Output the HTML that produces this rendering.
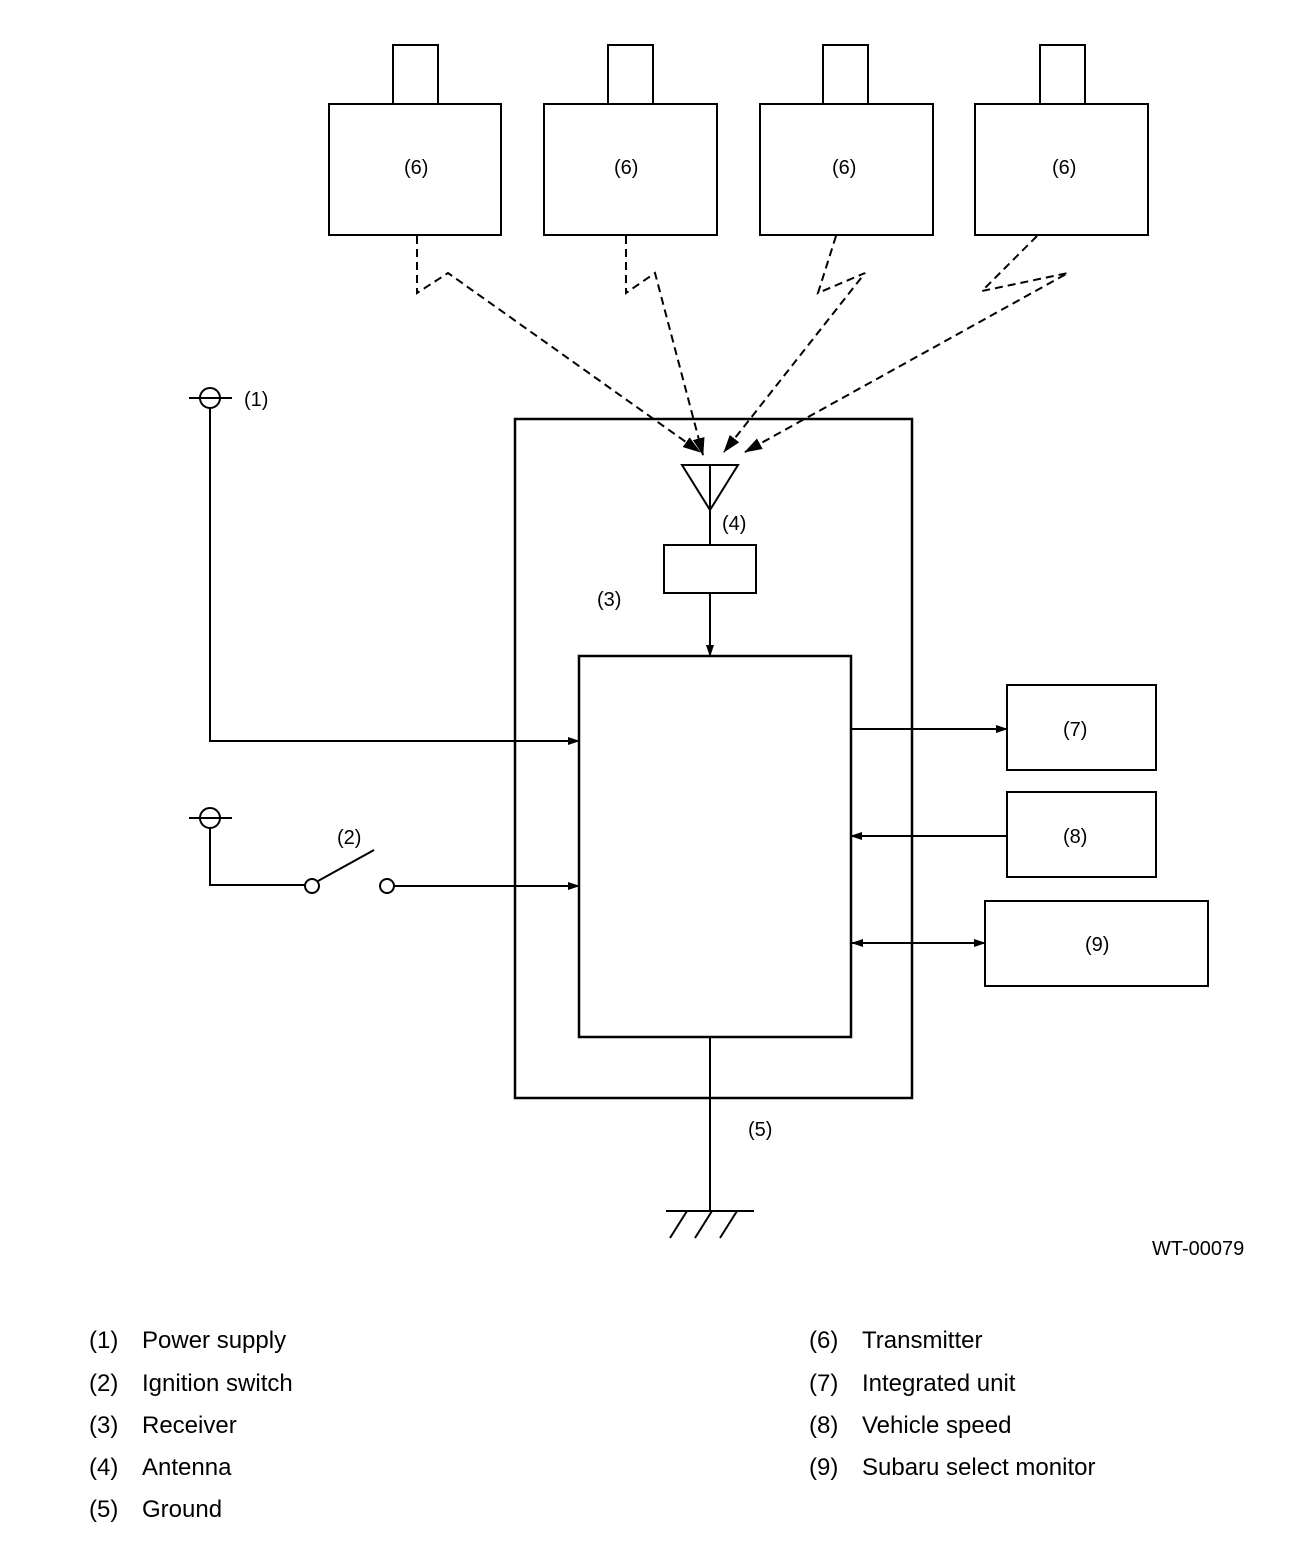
<!DOCTYPE html>
<html><head><meta charset="utf-8"><style>
html,body{margin:0;padding:0;background:#fff;}
svg{display:block;}
text{font-family:"Liberation Sans",sans-serif;fill:#000;}
</style></head><body>
<svg width="1312" height="1544" viewBox="0 0 1312 1544" xmlns="http://www.w3.org/2000/svg">
<defs>
<marker id="a" markerWidth="12" markerHeight="8" refX="11" refY="4" orient="auto" markerUnits="userSpaceOnUse">
<path d="M0,0 L12,4 L0,8 z" fill="#000"/></marker>
<marker id="as" markerWidth="12" markerHeight="8" refX="1" refY="4" orient="auto" markerUnits="userSpaceOnUse">
<path d="M12,0 L0,4 L12,8 z" fill="#000"/></marker>
<marker id="ad" markerWidth="18" markerHeight="12" refX="17" refY="6" orient="auto" markerUnits="userSpaceOnUse">
<path d="M0,0 L18,6 L0,12 z" fill="#000"/></marker>
</defs>
<g fill="none" stroke="#000" stroke-width="2">
<rect x="393" y="45" width="45" height="59"/><rect x="329" y="104" width="172" height="131"/>
<rect x="608" y="45" width="45" height="59"/><rect x="544" y="104" width="173" height="131"/>
<rect x="823" y="45" width="45" height="59"/><rect x="760" y="104" width="173" height="131"/>
<rect x="1040" y="45" width="45" height="59"/><rect x="975" y="104" width="173" height="131"/>
</g>
<g fill="none" stroke="#000" stroke-width="2" stroke-dasharray="8,5">
<polyline points="417,236 417,293 448,273 700,452" marker-end="url(#ad)"/>
<polyline points="626,236 626,293 655,273 703,455" marker-end="url(#ad)"/>
<polyline points="836,236 818,293 865,273 724,452" marker-end="url(#ad)"/>
<polyline points="1037,236 982,291 1068,273 745,452" marker-end="url(#ad)"/>
</g>
<g fill="none" stroke="#000" stroke-width="2">
<rect x="515" y="419" width="397" height="679" stroke-width="2.5"/>
<rect x="579" y="656" width="272" height="381" stroke-width="2.5"/>
<path d="M682,465 L738,465 L710,510 Z"/>
<line x1="710" y1="465" x2="710" y2="545"/>
<rect x="664" y="545" width="92" height="48"/>
<line x1="710" y1="593" x2="710" y2="656" marker-end="url(#a)"/>
<circle cx="210" cy="398" r="10"/>
<line x1="189" y1="398" x2="232" y2="398"/>
<polyline points="210,408 210,741 579,741" marker-end="url(#a)"/>
<circle cx="210" cy="818" r="10"/>
<line x1="189" y1="818" x2="232" y2="818"/>
<polyline points="210,828 210,885 305,885"/>
<circle cx="312" cy="886" r="7"/>
<line x1="318" y1="881" x2="374" y2="850"/>
<circle cx="387" cy="886" r="7"/>
<line x1="394" y1="886" x2="579" y2="886" marker-end="url(#a)"/>
<rect x="1007" y="685" width="149" height="85"/>
<line x1="851" y1="729" x2="1007" y2="729" marker-end="url(#a)"/>
<rect x="1007" y="792" width="149" height="85"/>
<line x1="1007" y1="836" x2="851" y2="836" marker-end="url(#a)"/>
<rect x="985" y="901" width="223" height="85"/>
<line x1="852" y1="943" x2="985" y2="943" marker-start="url(#as)" marker-end="url(#a)"/>
<line x1="710" y1="1037" x2="710" y2="1211"/>
<line x1="666" y1="1211" x2="754" y2="1211"/>
<line x1="687" y1="1211" x2="670" y2="1238"/>
<line x1="712" y1="1211" x2="695" y2="1238"/>
<line x1="737" y1="1211" x2="720" y2="1238"/>
</g>
<g font-size="20">
<text x="404" y="174">(6)</text>
<text x="614" y="174">(6)</text>
<text x="832" y="174">(6)</text>
<text x="1052" y="174">(6)</text>
<text x="244" y="406">(1)</text>
<text x="722" y="530">(4)</text>
<text x="597" y="606">(3)</text>
<text x="337" y="844">(2)</text>
<text x="1063" y="736">(7)</text>
<text x="1063" y="843">(8)</text>
<text x="1085" y="951">(9)</text>
<text x="748" y="1136">(5)</text>
<text x="1152" y="1255" font-size="20">WT-00079</text>
</g>
<g font-size="24">
<text x="89" y="1348">(1)</text><text x="142" y="1348">Power supply</text>
<text x="89" y="1391">(2)</text><text x="142" y="1391">Ignition switch</text>
<text x="89" y="1433">(3)</text><text x="142" y="1433">Receiver</text>
<text x="89" y="1475">(4)</text><text x="142" y="1475">Antenna</text>
<text x="89" y="1517">(5)</text><text x="142" y="1517">Ground</text>
<text x="809" y="1348">(6)</text><text x="862" y="1348">Transmitter</text>
<text x="809" y="1391">(7)</text><text x="862" y="1391">Integrated unit</text>
<text x="809" y="1433">(8)</text><text x="862" y="1433">Vehicle speed</text>
<text x="809" y="1475">(9)</text><text x="862" y="1475">Subaru select monitor</text>
</g>
</svg>
</body></html>
